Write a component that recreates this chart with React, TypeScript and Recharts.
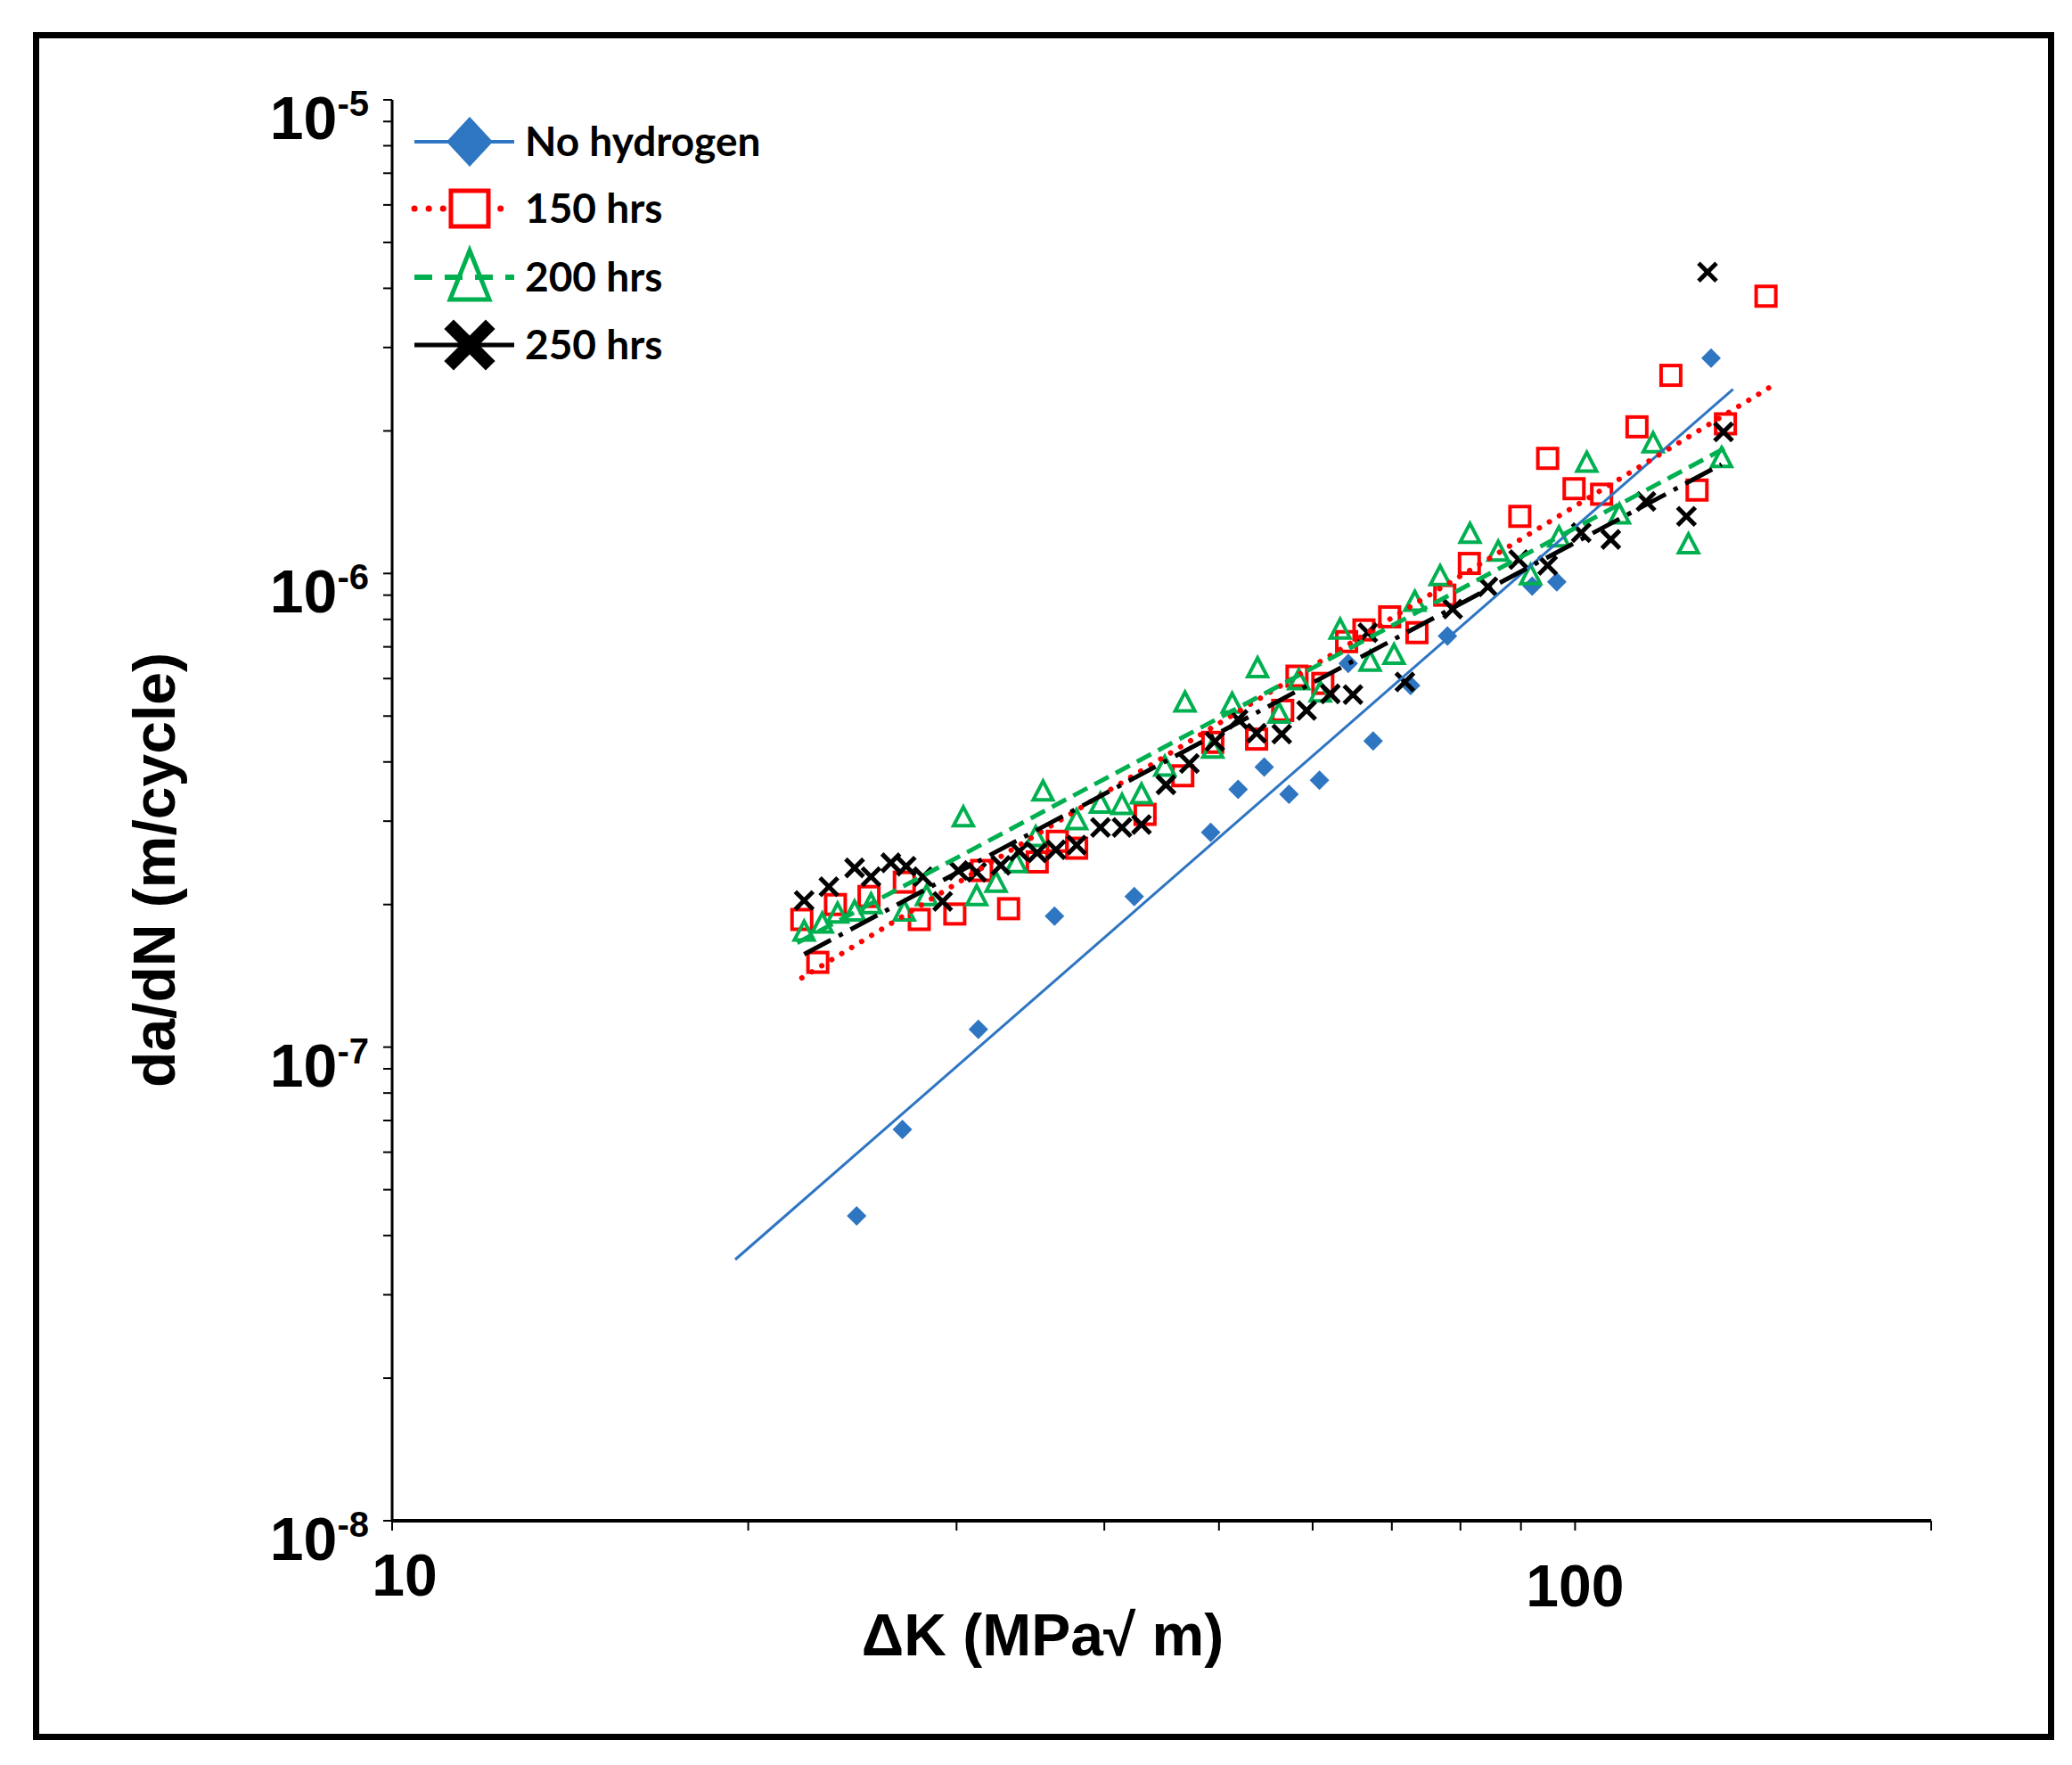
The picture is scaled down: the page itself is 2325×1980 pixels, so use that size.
import React from 'react';
import { ScatterChart, Scatter, XAxis, YAxis, Legend } from 'recharts';

const W = 2325;
const H = 1980;
const PLOT_LEFT = 440;
const PLOT_RIGHT = 2167;
const PLOT_TOP = 112;
const PLOT_BOTTOM = 1706;
const Y_AXIS_W = 120;
const X_AXIS_H = 120;

const BLUE = '#2e75c2';
const RED = '#ff0000';
const GREEN = '#00b050';
const BLACK = '#000000';

// ΔK (MPa√m) and da/dN (m/cycle)
const noHydrogenK = [24.7, 27.0, 31.3, 36.3, 42.4, 49.2, 51.9, 54.6, 57.3, 60.8, 64.3, 67.5, 72.6, 78.0, 92.0, 96.5, 130.3];
const noHydrogenRate = [4.4e-8, 6.7e-8, 1.09e-7, 1.89e-7, 2.08e-7, 2.84e-7, 3.5e-7, 3.9e-7, 3.42e-7, 3.66e-7, 6.46e-7, 4.43e-7, 5.8e-7, 7.38e-7, 9.4e-7, 9.6e-7, 2.85e-6];

const h150K = [22.2, 22.9, 23.7, 25.3, 27.1, 27.9, 29.9, 31.5, 33.2, 35.1, 36.5, 37.9, 43.3, 46.6, 49.4, 53.8, 56.6, 58.2, 61.2, 64.1, 66.3, 69.7, 73.5, 77.6, 81.4, 89.8, 94.8, 99.8, 105.3, 112.8, 120.5, 126.8, 134.0, 145.0];
const h150Rate = [1.86e-7, 1.51e-7, 2.0e-7, 2.08e-7, 2.23e-7, 1.86e-7, 1.91e-7, 2.36e-7, 1.96e-7, 2.46e-7, 2.72e-7, 2.63e-7, 3.1e-7, 3.74e-7, 4.4e-7, 4.47e-7, 5.14e-7, 6.07e-7, 5.86e-7, 7.18e-7, 7.6e-7, 8.1e-7, 7.5e-7, 9.0e-7, 1.05e-6, 1.32e-6, 1.75e-6, 1.51e-6, 1.47e-6, 2.04e-6, 2.62e-6, 1.5e-6, 2.07e-6, 3.85e-6];

const h200K = [22.3, 23.1, 23.8, 24.6, 25.4, 27.1, 28.3, 30.4, 31.2, 32.4, 33.7, 35.0, 35.5, 37.9, 39.7, 41.4, 43.0, 45.0, 46.8, 49.4, 51.3, 53.9, 56.2, 58.4, 60.9, 63.3, 67.1, 70.3, 73.2, 76.9, 81.5, 86.1, 91.7, 96.9, 102.3, 109.0, 116.4, 124.7, 133.0];
const h200Rate = [1.75e-7, 1.82e-7, 1.91e-7, 1.93e-7, 2.0e-7, 1.93e-7, 2.08e-7, 3.05e-7, 2.08e-7, 2.22e-7, 2.44e-7, 2.77e-7, 3.46e-7, 3.01e-7, 3.26e-7, 3.24e-7, 3.41e-7, 3.9e-7, 5.33e-7, 4.26e-7, 5.3e-7, 6.3e-7, 5.05e-7, 5.94e-7, 5.6e-7, 7.6e-7, 6.5e-7, 6.72e-7, 8.7e-7, 9.85e-7, 1.21e-6, 1.11e-6, 9.9e-7, 1.19e-6, 1.71e-6, 1.33e-6, 1.88e-6, 1.15e-6, 1.75e-6];

const h250K = [22.3, 23.4, 24.6, 25.4, 26.4, 27.2, 28.1, 29.2, 30.1, 31.2, 32.7, 33.9, 35.1, 36.4, 37.9, 39.7, 41.4, 43.0, 45.1, 47.2, 49.6, 51.9, 53.8, 56.5, 59.3, 62.1, 64.9, 66.8, 71.8, 78.8, 84.4, 89.6, 94.8, 101.2, 107.2, 114.8, 124.2, 129.4, 133.5];
const h250Rate = [2.04e-7, 2.18e-7, 2.39e-7, 2.29e-7, 2.45e-7, 2.41e-7, 2.29e-7, 2.03e-7, 2.36e-7, 2.34e-7, 2.42e-7, 2.59e-7, 2.57e-7, 2.61e-7, 2.67e-7, 2.91e-7, 2.91e-7, 2.95e-7, 3.58e-7, 3.97e-7, 4.42e-7, 4.92e-7, 4.6e-7, 4.58e-7, 5.14e-7, 5.57e-7, 5.55e-7, 7.5e-7, 5.9e-7, 8.41e-7, 9.37e-7, 1.07e-6, 1.04e-6, 1.22e-6, 1.18e-6, 1.42e-6, 1.32e-6, 4.33e-6, 1.99e-6];

// power-law trendline end points
const noHydrogenFitK = [19.5, 136];
const noHydrogenFitRate = [3.56e-8, 2.45e-6];
const h150FitK = [22.2, 146];
const h150FitRate = [1.4e-7, 2.47e-6];
const h200FitK = [22.0, 135];
const h200FitRate = [1.66e-7, 1.86e-6];
const h250FitK = [22.3, 133];
const h250FitRate = [1.57e-7, 1.7e-6];

const xTicks = [10, 20, 30, 40, 50, 60, 70, 80, 90, 100, 200];
const xTickLabels = ['10', '', '', '', '', '', '', '', '', '100', ''];
const yDecades = [1e-8, 1e-7, 1e-6, 1e-5];
const yExponents = ['-8', '-7', '-6', '-5'];
const yMinorSteps = [2, 3, 4, 5, 6, 7, 8, 9];
const yTicks = [
  ...yDecades,
  ...yDecades.slice(0, 3).flatMap((d) => yMinorSteps.map((m) => m * d)),
].sort((a, b) => a - b);

const legendNames = ['No hydrogen', '150 hrs', '200 hrs', '250 hrs'];

const toPoints = (k: number[], r: number[]) => k.map((x, i) => ({ x, y: r[i] }));

const FONT = '"Liberation Sans", Arial, sans-serif';

const Diamond = ({ cx, cy }: any) => (
  <path d={`M${cx},${cy - 11}L${cx + 11},${cy}L${cx},${cy + 11}L${cx - 11},${cy}Z`} fill={BLUE} />
);
const Square = ({ cx, cy }: any) => (
  <rect x={cx - 11} y={cy - 11} width={22} height={22} fill="none" stroke={RED} strokeWidth={4} />
);
const Triangle = ({ cx, cy }: any) => (
  <path d={`M${cx},${cy - 12}L${cx + 11},${cy + 9}L${cx - 11},${cy + 9}Z`} fill="none" stroke={GREEN} strokeWidth={4} strokeLinejoin="miter" />
);
const Cross = ({ cx, cy }: any) => (
  <g stroke={BLACK} strokeWidth={5}>
    <line x1={cx - 10} y1={cy - 10} x2={cx + 10} y2={cy + 10} />
    <line x1={cx - 10} y1={cy + 10} x2={cx + 10} y2={cy - 10} />
  </g>
);
const NoShape = () => <g />;

const YTick = ({ y, payload }: any) => {
  const idx = yDecades.findIndex((d) => Math.abs(payload.value - d) / d < 1e-6);
  if (idx < 0) return <g />;
  return (
    <text x={414} y={y + 44} textAnchor="end" fontFamily={FONT} fontWeight="bold" fontSize={68} fill="#000">
      10
      <tspan dy={-26} fontSize={40}>{yExponents[idx]}</tspan>
    </text>
  );
};

const XTick = ({ x, payload }: any) => {
  const idx = xTicks.findIndex((t) => Math.abs(payload.value - t) / t < 1e-6);
  const label = idx >= 0 ? xTickLabels[idx] : '';
  if (!label) return <g />;
  const shift = label === '10' ? 14 : 0;
  const base = label === '10' ? 1790 : 1802;
  return (
    <text x={x + shift} y={base} textAnchor="middle" fontFamily={FONT} fontWeight="bold" fontSize={66} fill="#000">
      {label}
    </text>
  );
};

const renderLegend = () => {
  const rows = [39, 114, 191, 267];
  const tx = 134;
  const mx = 72;
  return (
    <svg width={640} height={320} style={{ overflow: 'visible' }}>
      {/* No hydrogen */}
      <line x1={10} y1={rows[0]} x2={122} y2={rows[0]} stroke={BLUE} strokeWidth={4} />
      <path d={`M${mx},${rows[0] - 28}L${mx + 26},${rows[0]}L${mx},${rows[0] + 28}L${mx - 26},${rows[0]}Z`} fill={BLUE} />
      {/* 150 hrs */}
      <line x1={10} y1={rows[1]} x2={122} y2={rows[1]} stroke={RED} strokeWidth={7} strokeDasharray="0.1 16" strokeLinecap="round" />
      <rect x={mx - 21} y={rows[1] - 20} width={42} height={40} fill="#fff" stroke={RED} strokeWidth={5} />
      {/* 200 hrs */}
      <line x1={10} y1={rows[2]} x2={122} y2={rows[2]} stroke={GREEN} strokeWidth={6} strokeDasharray="20 14" />
      <path d={`M${mx},${rows[2] - 30}L${mx + 22},${rows[2] + 25}L${mx - 22},${rows[2] + 25}Z`} fill="none" stroke={GREEN} strokeWidth={5} />
      {/* 250 hrs */}
      <line x1={10} y1={rows[3]} x2={122} y2={rows[3]} stroke={BLACK} strokeWidth={5} />
      <g stroke={BLACK} strokeWidth={15} strokeLinecap="square">
        <line x1={mx - 18} y1={rows[3] - 18} x2={mx + 18} y2={rows[3] + 18} />
        <line x1={mx - 18} y1={rows[3] + 18} x2={mx + 18} y2={rows[3] - 18} />
      </g>
      {legendNames.map((n, i) => (
        <text key={n} x={tx} y={rows[i] + 16} fontFamily="Lato, 'Open Sans', sans-serif" fontWeight={700} fontSize={46} fill="#000">
          {n}
        </text>
      ))}
    </svg>
  );
};

const App: React.FC = () => {
  return (
    <div style={{ position: 'absolute', left: 0, top: 0, width: W, height: H, background: '#fff' }}>
      <div
        style={{
          position: 'absolute',
          left: 37,
          top: 36,
          width: 2268,
          height: 1916,
          border: '7px solid #000',
          boxSizing: 'border-box',
        }}
      />
      <ScatterChart
        width={W}
        height={H}
        margin={{ top: PLOT_TOP, right: W - PLOT_RIGHT, bottom: H - PLOT_BOTTOM - X_AXIS_H, left: PLOT_LEFT - Y_AXIS_W }}
        style={{ position: 'absolute', left: 0, top: 0 }}
      >
        <XAxis
          type="number"
          dataKey="x"
          scale="log"
          domain={[10, 200]}
          allowDataOverflow
          ticks={xTicks}
          interval={0}
          height={X_AXIS_H}
          axisLine={{ stroke: '#000', strokeWidth: 4 }}
          tickLine={{ stroke: '#000', strokeWidth: 2 }}
          tickSize={11}
          tick={<XTick />}
          label={() => (
            <text x={1170} y={1857} textAnchor="middle" fontFamily={FONT} fontWeight="bold" fontSize={66} fill="#000">
              ΔK (MPa√ m)
            </text>
          )}
        />
        <YAxis
          type="number"
          dataKey="y"
          scale="log"
          domain={[1e-8, 1e-5]}
          allowDataOverflow
          ticks={yTicks}
          interval={0}
          width={Y_AXIS_W}
          axisLine={{ stroke: '#000', strokeWidth: 3 }}
          tickLine={{ stroke: '#000', strokeWidth: 2 }}
          tickSize={10}
          tick={<YTick />}
          label={() => (
            <text
              x={196}
              y={976}
              transform="rotate(-90 196 976)"
              textAnchor="middle"
              fontFamily={FONT}
              fontWeight="bold"
              fontSize={66}
              fill="#000"
            >
              da/dN (m/cycle)
            </text>
          )}
        />
        <Legend
          content={renderLegend}
          layout="vertical"
          align="center"
          verticalAlign="middle"
          wrapperStyle={{ left: 455, top: 120, width: 640, height: 320 }}
        />

        <Scatter name="No hydrogen" data={toPoints(noHydrogenK, noHydrogenRate)} shape={Diamond} isAnimationActive={false} />
        <Scatter name="150 hrs" data={toPoints(h150K, h150Rate)} shape={Square} isAnimationActive={false} />
        <Scatter name="200 hrs" data={toPoints(h200K, h200Rate)} shape={Triangle} isAnimationActive={false} />
        <Scatter name="250 hrs" data={toPoints(h250K, h250Rate)} shape={Cross} isAnimationActive={false} />

        <Scatter
          data={toPoints(noHydrogenFitK, noHydrogenFitRate)}
          shape={NoShape}
          line={{ stroke: BLUE, strokeWidth: 3 }}
          isAnimationActive={false}
        />
        <Scatter
          data={toPoints(h150FitK, h150FitRate)}
          shape={NoShape}
          line={{ stroke: RED, strokeWidth: 6, strokeDasharray: '0.1 13', strokeLinecap: 'round' }}
          isAnimationActive={false}
        />
        <Scatter
          data={toPoints(h200FitK, h200FitRate)}
          shape={NoShape}
          line={{ stroke: GREEN, strokeWidth: 5, strokeDasharray: '18 9' }}
          isAnimationActive={false}
        />
        <Scatter
          data={toPoints(h250FitK, h250FitRate)}
          shape={NoShape}
          line={{ stroke: BLACK, strokeWidth: 5, strokeDasharray: '34 10 5 10' }}
          isAnimationActive={false}
        />
      </ScatterChart>
    </div>
  );
};

export default App;
